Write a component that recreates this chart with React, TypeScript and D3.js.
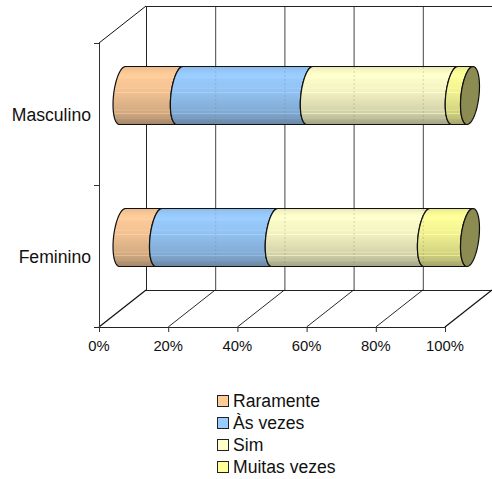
import React from "react";
import * as d3 from "d3";

const categories = ["Masculino", "Feminino"];
const seriesNames = ["Raramente", "Às vezes", "Sim", "Muitas vezes"];
const masculino = [16.5, 37.4, 41.7, 4.4];
const feminino = [10.5, 33.3, 43.8, 12.4];
const seriesColors = ["#ffcc99", "#99ccff", "#ffffcc", "#ffff99"];
const xTicks = [0, 20, 40, 60, 80, 100];
const capColor = "#8c8c52";

const FONT = "'Liberation Sans', Arial, sans-serif";
const W = 492, H = 479;
const left = 99, right = 445, floorY = 327, topY = 43;
const dx = 47, dy = 37;

const x = d3.scaleLinear().domain([0, 100]).range([left, right]);
const barX = d3.scaleLinear().domain([0, 100]).range([left + dx / 2, right + dx / 2 + 1.5]);
const y = d3.scaleBand<string>().domain(categories).range([topY, floorY]);

// Shading of the cylinder: offset, mix toward black (+) or white (-)
const shading: [number, number][] = [
  [0, 0.12], [0.06, 0.05], [0.13, 0], [0.2, -0.06], [0.21, 0.02], [0.36, 0.05], [0.37, -0.12], [0.385, 0.06],
  [0.44, 0.07], [0.45, -0.1], [0.465, 0.08], [0.6, 0.14], [0.74, 0.2], [0.75, 0.06], [0.765, 0.22],
  [0.8, 0.22], [0.81, 0.1], [0.825, 0.25], [0.88, 0.3], [0.89, 0.2], [0.9, 0.34], [1, 0.45],
];
const mix = (c: string, m: number) =>
  m >= 0 ? d3.interpolateRgb(c, "#303030")(m) : d3.interpolateRgb(c, "#ffffff")(-m);

const ry = 29, rx = 9, skew = 3;
const ellipsePoint = (cx: number, cy: number, t: number): [number, number] => [
  cx + rx * Math.cos(t) + skew * Math.sin(t),
  cy - ry * Math.sin(t),
];
const line = d3.line();
const angles = (a: number, b: number, n = 36) => d3.range(n + 1).map((i) => a + ((b - a) * i) / n);

function segmentPath(x0: number, x1: number, cy: number) {
  const pts0 = angles(Math.PI / 2, (3 * Math.PI) / 2).map((t) => ellipsePoint(x0, cy, t));
  const pts1 = angles((3 * Math.PI) / 2, Math.PI / 2).map((t) => ellipsePoint(x1, cy, t));
  return line([...pts0, ...pts1]) + "Z";
}
function capPath(cx: number, cy: number) {
  return line(angles(0, 2 * Math.PI, 72).map((t) => ellipsePoint(cx, cy, t))) + "Z";
}

function Bar({ cat, values }: { cat: string; values: number[] }) {
  const cy = (y(cat) as number) + y.bandwidth() / 2 - dy / 2;
  const cum = d3.cumsum(values);
  const starts = [0, ...cum.slice(0, -1)];
  return (
    <g>
      {values.map((v, i) => (
        <path
          key={i}
          d={segmentPath(barX(starts[i]), barX(cum[i]), cy)}
          fill={`url(#grad${i})`}
          stroke="#111"
          strokeWidth={1.2}
        />
      ))}
      {xTicks.slice(1, -1).map((t) => (
        <line
          key={t}
          x1={x(t) + dx + 0.5}
          x2={x(t) + dx + 0.5}
          y1={cy - ry + 1}
          y2={cy + ry - 1}
          stroke="#777"
          strokeOpacity={0.55}
          strokeDasharray="1 3"
        />
      ))}
      <path d={capPath(barX(100), cy)} fill={capColor} stroke="#111" strokeWidth={1.2} />
    </g>
  );
}

export default function App() {
  const data = [masculino, feminino];
  const backY = floorY - dy;
  const topBack = topY - dy;
  return (
    <svg
      width={W}
      height={H}
      viewBox={`0 0 ${W} ${H}`}
      style={{ position: "absolute", left: 0, top: 0, display: "block", background: "#fff" }}
      fontFamily={FONT}
    >
      <defs>
        {seriesColors.map((c, i) => (
          <linearGradient key={i} id={`grad${i}`} x1="0" y1="0" x2="0" y2="1">
            {shading.map(([o, m], j) => (
              <stop key={j} offset={o} stopColor={mix(c, m)} />
            ))}
          </linearGradient>
        ))}
      </defs>

      {xTicks.map((t) => (
        <line
          key={t}
          x1={x(t) + dx + 0.5}
          x2={x(t) + dx + 0.5}
          y1={topBack}
          y2={backY}
          stroke={t === 0 ? "#222" : "#444"}
          strokeWidth={1}
        />
      ))}
      <line x1={x(0) + dx} x2={x(100) + dx} y1={topBack + 0.5} y2={topBack + 0.5} stroke="#222" />
      <line x1={x(0) + dx} x2={x(100) + dx} y1={backY + 0.5} y2={backY + 0.5} stroke="#222" />

      {xTicks.map((t) => (
        <line key={t} x1={x(t)} x2={x(t) + dx} y1={floorY} y2={backY} stroke="#111" strokeWidth={t === 0 || t === 100 ? 1.2 : 0.9} />
      ))}
      <line x1={left} x2={left + dx} y1={topY} y2={topBack} stroke="#111" />
      <line x1={left - 5} x2={right} y1={floorY + 0.5} y2={floorY + 0.5} stroke="#222" />
      <line x1={left + 0.5} x2={left + 0.5} y1={topY} y2={floorY} stroke="#333" />
      {xTicks.map((t) => (
        <g key={t}>
          <line x1={x(t) + 0.5} x2={x(t) + 0.5} y1={floorY} y2={floorY + 5} stroke="#333" />
          <text x={x(t)} y={351} textAnchor="middle" fontSize={14.8} fill="#111">{t}%</text>
        </g>
      ))}
      {[topY, topY + y.step()].map((ty) => (
        <line key={ty} x1={left - 5} x2={left} y1={ty + 0.5} y2={ty + 0.5} stroke="#333" />
      ))}

      {categories.map((c) => (
        <text key={c} x={91} y={(y(c) as number) + y.bandwidth() / 2 + 6.5} textAnchor="end" fontSize={17.6} fill="#111">
          {c}
        </text>
      ))}

      {categories.map((c, i) => (
        <Bar key={c} cat={c} values={data[i]} />
      ))}

      {seriesNames.map((s, i) => {
        const ly = 401 + i * 22;
        return (
          <g key={s}>
            <rect x={217.5} y={ly - 5.5} width={11} height={11} fill={seriesColors[i]} stroke="#222" strokeWidth={1} />
            <text x={233} y={ly + 5.7} fontSize={17.6} fill="#111">{s}</text>
          </g>
        );
      })}
    </svg>
  );
}
